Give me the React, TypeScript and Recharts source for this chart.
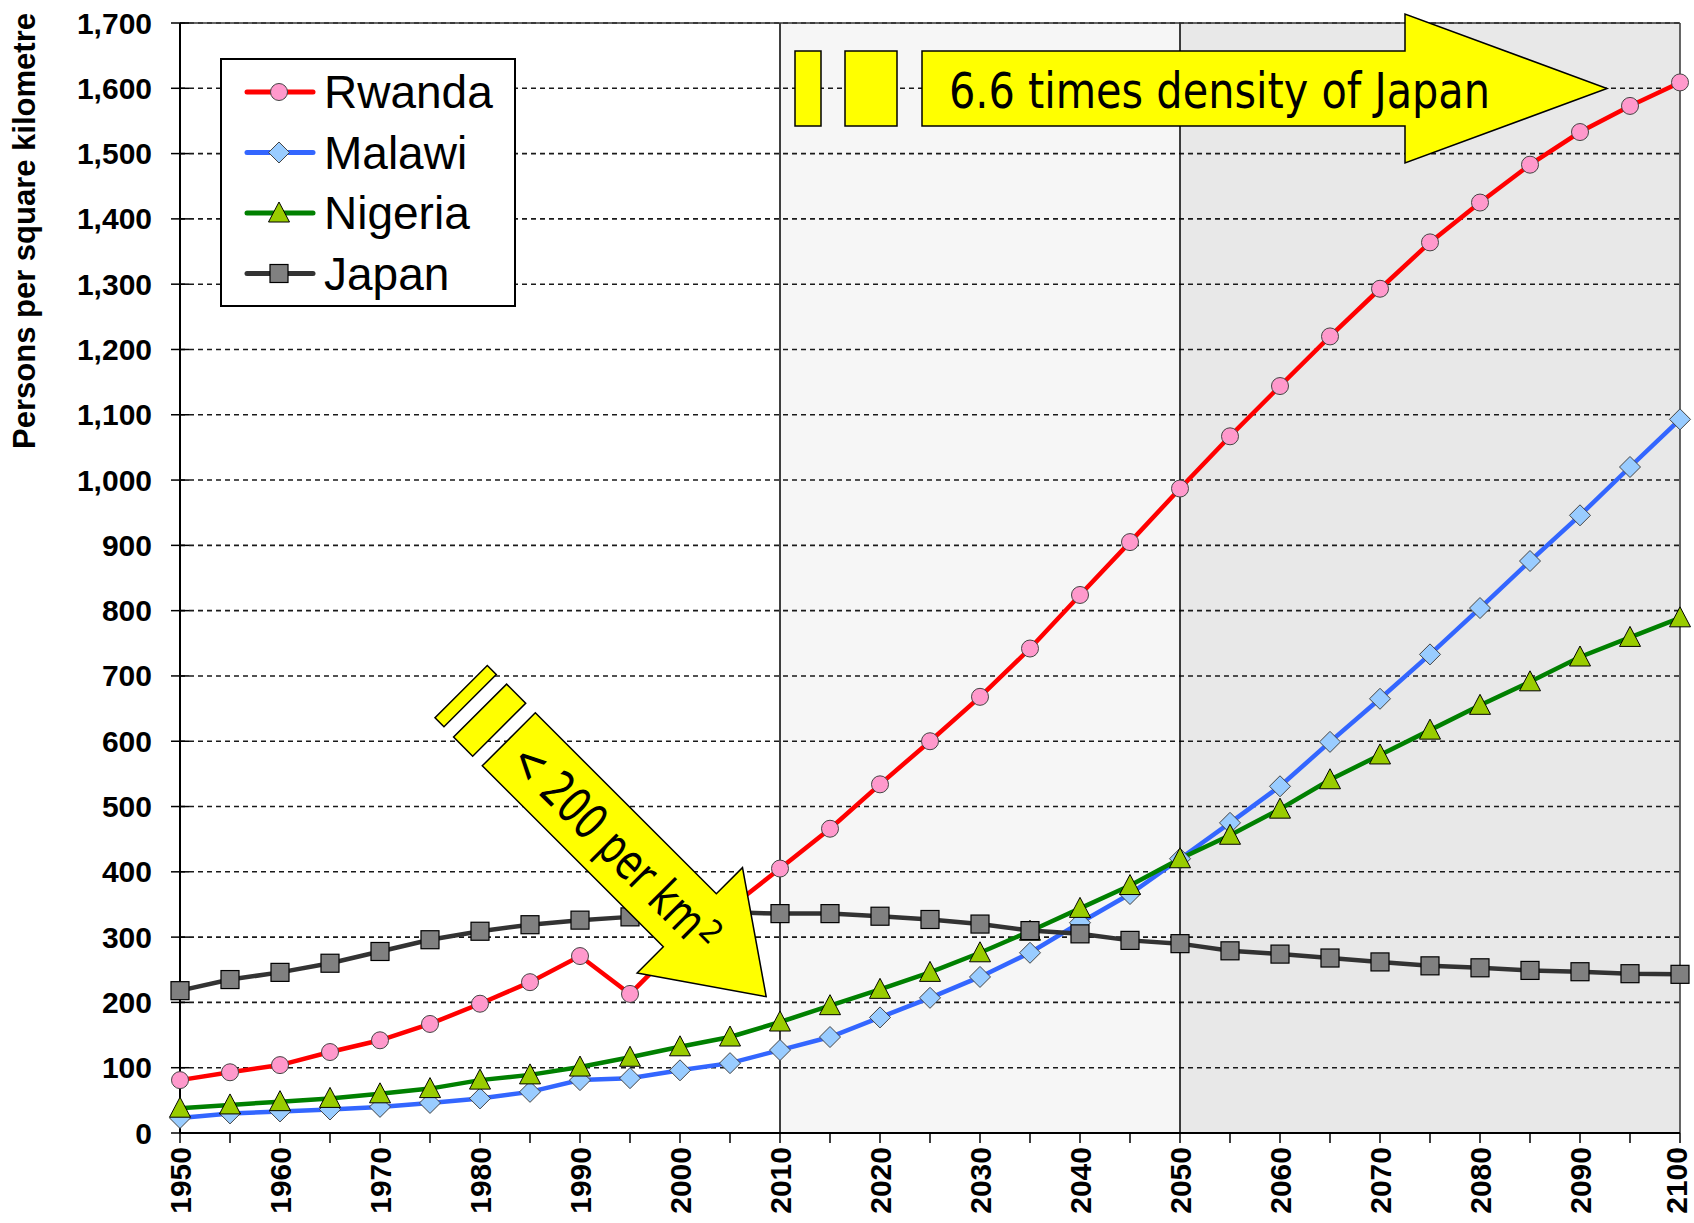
import React from "react";
import {
  LineChart,
  Line,
  XAxis,
  YAxis,
  CartesianGrid,
  ReferenceArea,
  ReferenceLine,
} from "recharts";

// population density, persons per km², 1950-2100 (5-year steps)
const years = [
  1950, 1955, 1960, 1965, 1970, 1975, 1980, 1985, 1990, 1995, 2000, 2005, 2010,
  2015, 2020, 2025, 2030, 2035, 2040, 2045, 2050, 2055, 2060, 2065, 2070, 2075,
  2080, 2085, 2090, 2095, 2100,
];
const rwanda = [
  81, 93, 104, 124, 142, 167, 198, 231, 271, 213, 290, 345, 405, 466, 534, 600,
  668, 742, 824, 905, 987, 1067, 1144, 1220, 1293, 1364, 1425, 1483, 1533, 1573,
  1609,
];
const malawi = [
  23, 30, 33, 36, 40, 46, 53, 63, 81, 84, 96, 107, 127, 147, 177, 207, 239, 276,
  322, 366, 420, 475, 531, 599, 665, 733, 804, 876, 946, 1020, 1093,
];
const nigeria = [
  38, 43, 48, 53, 60, 68, 81, 89, 101, 116, 132, 147, 170, 195, 220, 246, 276,
  309, 344, 379, 420, 456, 496, 541, 579, 617, 655, 691, 729, 759, 789,
];
const japan = [
  218, 235, 246, 260, 278, 296, 309, 319, 326, 331, 336, 338, 336, 336, 332,
  327, 320, 310, 305, 295, 290, 279, 274, 268, 262, 256, 253, 249, 247, 244, 243,
];

const xTicks = years;
const yTicks = [
  0, 100, 200, 300, 400, 500, 600, 700, 800, 900, 1000, 1100, 1200, 1300, 1400,
  1500, 1600, 1700,
];

const data = years.map((year, i) => ({
  year,
  Rwanda: rwanda[i],
  Malawi: malawi[i],
  Nigeria: nigeria[i],
  Japan: japan[i],
}));

const FONT = "'Liberation Sans', Arial, Helvetica, sans-serif";
const NARROW =
  "'Liberation Sans Narrow', 'Arial Narrow', 'DejaVu Sans Condensed', sans-serif";

function Marker({ kind, cx, cy }: { kind: string; cx: number; cy: number }) {
  if (kind === "circle")
    return <circle cx={cx} cy={cy} r={8.5} fill="#ff99cc" stroke="#444" strokeWidth={1} />;
  if (kind === "diamond")
    return (
      <polygon
        points={`${cx},${cy - 10.5} ${cx + 10.5},${cy} ${cx},${cy + 10.5} ${cx - 10.5},${cy}`}
        fill="#99ccff"
        stroke="#444"
        strokeWidth={1}
      />
    );
  if (kind === "triangle")
    return (
      <polygon
        points={`${cx},${cy - 11} ${cx + 10.5},${cy + 9} ${cx - 10.5},${cy + 9}`}
        fill="#99cc00"
        stroke="#000"
        strokeWidth={1}
      />
    );
  return (
    <rect x={cx - 9} y={cy - 9} width={18} height={18} fill="#808080" stroke="#000" strokeWidth={1.2} />
  );
}

const series = [
  { key: "Rwanda", color: "#ff0000", marker: "circle" },
  { key: "Malawi", color: "#3366ff", marker: "diamond" },
  { key: "Nigeria", color: "#008000", marker: "triangle" },
  { key: "Japan", color: "#333333", marker: "square" },
];

const XTick = (props: any) => {
  const { x, y, payload } = props;
  if (payload.value % 10 !== 0) return <g />;
  // last label sits right on the chart edge, nudge it in a little
  const nx = payload.value === 2100 ? x - 4 : x;
  return (
    <text
      transform={`translate(${nx},${y}) rotate(-90)`}
      textAnchor="end"
      dominantBaseline="central"
      fontFamily={FONT}
      fontWeight="bold"
      fontSize={30}
      fill="#000"
    >
      {payload.value}
    </text>
  );
};

const YTick = (props: any) => {
  const { x, y, payload } = props;
  return (
    <g>
      <text
        x={x}
        y={y}
        textAnchor="end"
        dominantBaseline="central"
        fontFamily={FONT}
        fontWeight="bold"
        fontSize={30}
        fill="#000"
      >
        {payload.value.toLocaleString("en-US")}
      </text>
      <line x1={x + 28} x2={x + 37} y1={y} y2={y} stroke="#000" strokeWidth={1.5} />
    </g>
  );
};

export default function App() {
  return (
    <div style={{ position: "absolute", left: 0, top: 0, width: 1694, height: 1223, background: "#fff" }}>
      <LineChart
        width={1694}
        height={1223}
        data={data}
        margin={{ top: 23, right: 14, left: 0, bottom: 0 }}
      >
        <ReferenceArea x1={2010} x2={2050} y1={0} y2={1700} fill="#f6f6f6" fillOpacity={1} stroke="none" zIndex={-200} />
        <ReferenceArea x1={2050} x2={2100} y1={0} y2={1700} fill="#e8e8e8" fillOpacity={1} stroke="none" zIndex={-200} />
        <CartesianGrid vertical={false} stroke="#1a1a1a" strokeWidth={1.6} strokeDasharray="5 4" />
        <XAxis
          dataKey="year"
          type="number"
          domain={[1950, 2100]}
          ticks={xTicks}
          interval={0}
          height={90}
          tickSize={10}
          tickMargin={4}
          tick={<XTick />}
          axisLine={{ stroke: "#000", strokeWidth: 2 }}
          tickLine={{ stroke: "#000", strokeWidth: 1.5 }}
        />
        <YAxis
          type="number"
          domain={[0, 1700]}
          ticks={yTicks}
          interval={0}
          width={180}
          tickSize={9}
          tickMargin={19}
          tick={<YTick />}
          axisLine={{ stroke: "#000", strokeWidth: 2 }}
          tickLine={{ stroke: "#000", strokeWidth: 1.5 }}
        />
        <ReferenceLine x={2010} stroke="#000" strokeWidth={1.5} />
        <ReferenceLine x={2050} stroke="#000" strokeWidth={1.5} />
        <ReferenceLine x={2100} stroke="#333" strokeWidth={1.5} />
        <ReferenceLine y={1700} stroke="#333" strokeWidth={1.5} />
        {series.map((s) => (
          <Line
            key={s.key}
            dataKey={s.key}
            type="linear"
            stroke={s.color}
            strokeWidth={4.5}
            isAnimationActive={false}
            activeDot={false}
            dot={(p: any) => (
              <Marker key={`${s.key}-${p.index}`} kind={s.marker} cx={p.cx} cy={p.cy} />
            )}
          />
        ))}
      </LineChart>

      <svg
        width={1694}
        height={1223}
        style={{ position: "absolute", left: 0, top: 0, pointerEvents: "none" }}
      >
        {/* y axis title */}
        <text
          transform="translate(24,231) rotate(-90)"
          textAnchor="middle"
          dominantBaseline="central"
          fontFamily={FONT}
          fontWeight="bold"
          fontSize={31}
          fill="#000"
        >
          Persons per square kilometre
        </text>

        {/* legend */}
        <rect x={221} y={59} width={294} height={247} fill="#fff" stroke="#000" strokeWidth={2} />
        {series.map((s, i) => {
          const cy = 92 + i * 60.5;
          return (
            <g key={s.key}>
              <line x1={247} x2={313} y1={cy} y2={cy} stroke={s.color} strokeWidth={5} strokeLinecap="round" />
              <Marker kind={s.marker} cx={279} cy={cy} />
              <text x={324} y={cy + 16} fontFamily={FONT} fontSize={46} fill="#000">
                {s.key}
              </text>
            </g>
          );
        })}

        {/* top arrow */}
        <rect x={795} y={51} width={26} height={75} fill="#ffff00" stroke="#000" strokeWidth={1.5} />
        <rect x={845} y={51} width={52} height={75} fill="#ffff00" stroke="#000" strokeWidth={1.5} />
        <polygon
          points="922,51 1405,51 1405,14 1607,88.5 1405,163 1405,126 922,126"
          fill="#ffff00"
          stroke="#000"
          strokeWidth={1.5}
        />
        <text
          x={949}
          y={108}
          fontFamily={NARROW}
          fontSize={50}
          textLength={541}
          lengthAdjust="spacingAndGlyphs"
          fill="#000"
        >
          6.6 times density of Japan
        </text>

        {/* diagonal arrow */}
        <g transform="translate(508.8,739.3) rotate(45)">
          <rect x={-67.4} y={-37} width={12.7} height={74} fill="#ffff00" stroke="#000" strokeWidth={1.5} />
          <rect x={-40.6} y={-37.5} width={27} height={75} fill="#ffff00" stroke="#000" strokeWidth={1.5} />
          <polygon
            points="0,-37.5 256,-37.5 256,-74.5 364,0 256,74.5 256,37.5 0,37.5"
            fill="#ffff00"
            stroke="#000"
            strokeWidth={1.5}
          />
          <text
            x={16}
            y={18}
            fontFamily={NARROW}
            fontSize={50}
            textLength={252}
            lengthAdjust="spacingAndGlyphs"
            fill="#000"
          >
            {"< 200 per km"}
          </text>
          <text x={270} y={4} fontFamily={NARROW} fontSize={32} fill="#000">
            2
          </text>
        </g>
      </svg>
    </div>
  );
}
